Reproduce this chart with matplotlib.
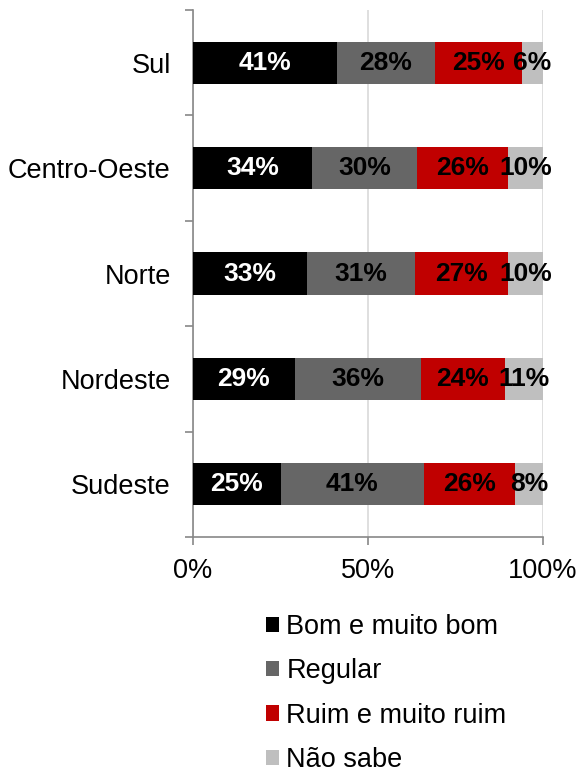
import matplotlib
matplotlib.use("Agg")
import matplotlib.pyplot as plt
import numpy as np

plt.rcParams['font.family'] = ['Liberation Sans', 'DejaVu Sans']

regions = ["Sul", "Centro-Oeste", "Norte", "Nordeste", "Sudeste"]
series_names = ["Bom e muito bom", "Regular", "Ruim e muito ruim", "Não sabe"]
bom = [41, 34, 33, 29, 25]
regular = [28, 30, 31, 36, 41]
ruim = [25, 26, 27, 24, 26]
nao_sabe = [6, 10, 10, 11, 8]
x_ticks = [0, 50, 100]
x_ticklabels = ["0%", "50%", "100%"]

colors = ["#000000", "#666666", "#C00000", "#BFBFBF"]
label_colors = ["white", "black", "black", "black"]

data = np.array([bom, regular, ruim, nao_sabe], dtype=float)
shares = data / data.sum(axis=0) * 100

fig = plt.figure(figsize=(5.79, 7.78), dpi=100)
ax = fig.add_axes([193/579, 1-537/778, 350/579, 527/778])

y = np.arange(len(regions))
left = np.zeros(len(regions))
handles = []
for i, name in enumerate(series_names):
    h = ax.barh(y, shares[i], left=left, height=0.4, color=colors[i], label=name, zorder=3)
    handles.append(h)
    for j in range(len(regions)):
        cx = left[j] + shares[i][j] / 2
        ax.text(cx, y[j], f"{int(data[i][j])}%", ha="center", va="center",
                fontsize=19, fontweight="bold", color=label_colors[i], zorder=4)
    left += shares[i]

ax.set_xlim(0, 100)
ax.set_ylim(len(regions) - 0.5, -0.5)
ax.set_xticks(x_ticks)
ax.set_xticklabels(x_ticklabels, fontsize=19.5)
ax.set_yticks(y)
ax.set_yticklabels(regions, fontsize=19.5)
ax.set_yticks(np.arange(-0.5, len(regions), 1.0), minor=True)
ax.tick_params(axis="y", which="major", length=0, pad=16)
ax.tick_params(axis="y", which="minor", length=6, color="#888888", width=1.2)
ax.tick_params(axis="x", which="major", length=6, color="#888888", width=1.2, pad=9)
ax.xaxis.grid(True, color="#D9D9D9", linewidth=1.2, zorder=0)
for s in ["top", "right"]:
    ax.spines[s].set_visible(False)
for s in ["left", "bottom"]:
    ax.spines[s].set_color("#888888")
    ax.spines[s].set_linewidth(1.2)

fig.legend(handles=handles, labels=series_names, loc="upper left",
           bbox_to_anchor=(255/579, 1-603/778), frameon=False, fontsize=19.5,
           handlelength=0.5, handleheight=0.5, handletextpad=0.26, labelspacing=0.68,
           borderaxespad=0)

fig.savefig("out.png", dpi=100)
